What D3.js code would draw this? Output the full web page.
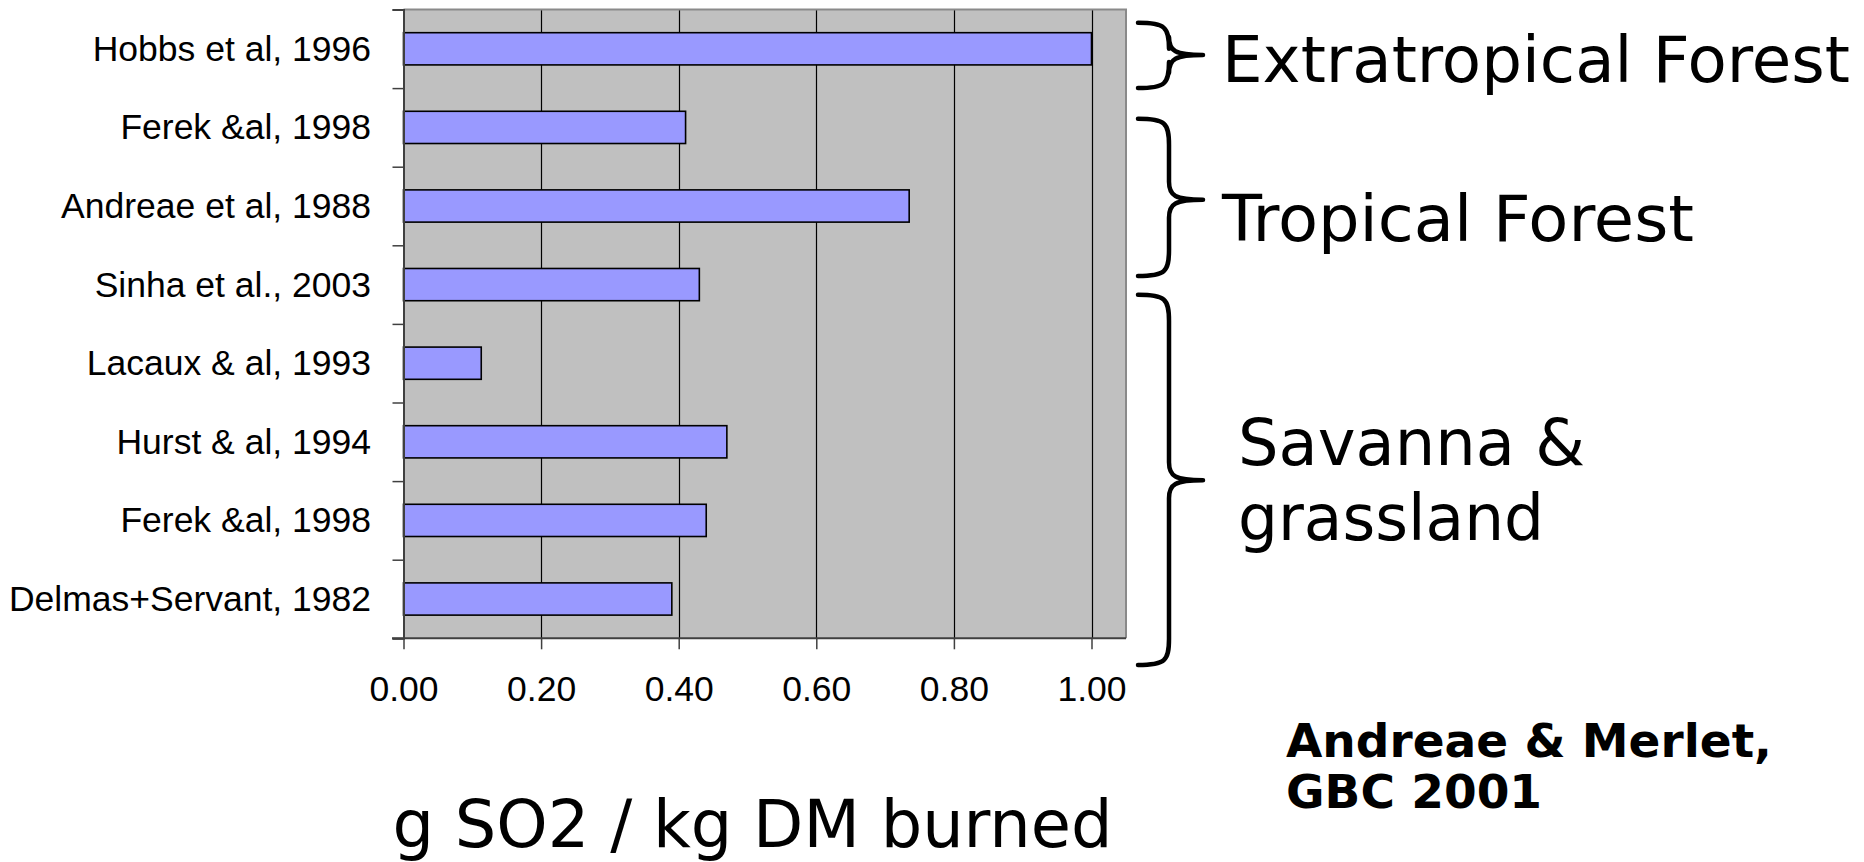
<!DOCTYPE html>
<html>
<head>
<meta charset="utf-8">
<script src="https://cdn.jsdelivr.net/npm/d3@7"></script>
<style>
  html, body { margin: 0; padding: 0; background: #ffffff; }
  svg { display: block; }
</style>
</head>
<body>
<svg id="chart" width="1864" height="862"></svg>
<script>
// SO2 emission factors from biomass burning, by study
const studies = [
  "Hobbs et al, 1996",
  "Ferek &al, 1998",
  "Andreae et al, 1988",
  "Sinha et al., 2003",
  "Lacaux & al, 1993",
  "Hurst & al, 1994",
  "Ferek &al, 1998",
  "Delmas+Servant, 1982"
];
const so2Values = [1.00, 0.41, 0.735, 0.43, 0.113, 0.47, 0.44, 0.39];
const xTickValues = [0, 0.2, 0.4, 0.6, 0.8, 1.0];

// Ecosystem groups, spans given in category units (0 = top of first row)
const groupNames = ["Extratropical Forest", "Tropical Forest", ["Savanna &", "grassland"]];
const groupStart = [0.17, 1.39, 3.63];
const groupEnd   = [1.00, 3.39, 8.34];
const groupTip   = [0.58, 2.42, 5.99];

const axisTitle = "g SO2 / kg DM burned";
const sourceLines = ["Andreae & Merlet,", "GBC 2001"];

const svg = d3.select("#chart");
const plot = { left: 403.5, right: 1126, top: 9.5, bottom: 638.3 };

const x = d3.scaleLinear().domain([0, 1.05]).range([plot.left, plot.left + 1.05 * 688]);
const y = d3.scaleBand().domain(d3.range(studies.length))
  .range([plot.top, plot.bottom]).paddingInner(0.59).paddingOuter(0.295);
const yUnit = d3.scaleLinear().domain([0, studies.length]).range([plot.top, plot.bottom]);

// plot background
svg.append("rect")
  .attr("x", plot.left).attr("y", plot.top)
  .attr("width", plot.right - plot.left).attr("height", plot.bottom - plot.top)
  .attr("fill", "#c0c0c0");

// vertical gridlines
svg.append("g").selectAll("line")
  .data(xTickValues.filter(d => d > 0))
  .join("line")
  .attr("x1", d => Math.round(x(d)) + 0.5).attr("x2", d => Math.round(x(d)) + 0.5)
  .attr("y1", plot.top).attr("y2", plot.bottom)
  .attr("stroke", "#000").attr("stroke-width", 1.2);

// top and right frame
svg.append("path")
  .attr("d", `M${plot.left},${plot.top} H${plot.right} V${plot.bottom}`)
  .attr("fill", "none").attr("stroke", "#8a8a8a").attr("stroke-width", 2);

// bars
svg.append("g").selectAll("rect")
  .data(so2Values)
  .join("rect")
  .attr("x", x(0))
  .attr("y", (d, i) => y(i))
  .attr("width", d => x(d) - x(0))
  .attr("height", y.bandwidth())
  .attr("fill", "#9999ff")
  .attr("stroke", "#000")
  .attr("stroke-width", 1.6);

// category axis
const gy = svg.append("g").attr("transform", `translate(${plot.left},0)`)
  .call(d3.axisLeft(yUnit).tickValues(d3.range(studies.length + 1)).tickSize(11).tickFormat(""));
gy.select(".domain").attr("stroke", "#404040").attr("stroke-width", 2);
gy.selectAll(".tick line").attr("stroke", "#404040").attr("stroke-width", 1.5);

svg.append("g").selectAll("text")
  .data(studies)
  .join("text")
  .attr("x", 371)
  .attr("y", (d, i) => y(i) + y.bandwidth() / 2)
  .attr("dy", "0.34em")
  .attr("text-anchor", "end")
  .attr("font-family", "'Liberation Sans', Arial, sans-serif")
  .attr("font-size", 35.5)
  .attr("fill", "#000")
  .text(d => d);

// value axis
const gx = svg.append("g").attr("transform", `translate(0,${plot.bottom})`)
  .call(d3.axisBottom(x).tickValues(xTickValues).tickSize(11).tickPadding(26).tickFormat(d3.format(".2f")));
gx.select(".domain").remove();
gx.append("line").attr("x1", 392).attr("x2", plot.right).attr("y1", 0).attr("y2", 0)
  .attr("stroke", "#404040").attr("stroke-width", 2);
gx.selectAll(".tick line").attr("stroke", "#404040").attr("stroke-width", 1.5);
gx.selectAll(".tick text")
  .attr("font-family", "'Liberation Sans', Arial, sans-serif")
  .attr("font-size", 35.5)
  .attr("fill", "#000");

// axis title
svg.append("text")
  .attr("x", 752.5).attr("y", 847)
  .attr("text-anchor", "middle")
  .attr("font-family", "'DejaVu Sans', Verdana, sans-serif")
  .attr("font-size", 65)
  .attr("textLength", 720)
  .attr("lengthAdjust", "spacingAndGlyphs")
  .attr("fill", "#000")
  .text(axisTitle);

// group braces
function bracePath(xl, xs, xt, y0, y1, ym) {
  const r = 26, rt = 18;
  return `M${xl},${y0} C${xs - 4},${y0} ${xs},${y0 + 4} ${xs},${y0 + r}` +
    ` L${xs},${ym - rt} C${xs},${ym - 4} ${xs + 6},${ym} ${xt},${ym}` +
    ` C${xs + 6},${ym} ${xs},${ym + 4} ${xs},${ym + rt}` +
    ` L${xs},${y1 - r} C${xs},${y1 - 4} ${xs - 4},${y1} ${xl},${y1}`;
}
svg.append("g").selectAll("path")
  .data(groupNames)
  .join("path")
  .attr("d", (d, i) => bracePath(1138, 1169, 1203, yUnit(groupStart[i]), yUnit(groupEnd[i]), yUnit(groupTip[i])))
  .attr("fill", "none")
  .attr("stroke", "#000")
  .attr("stroke-width", 4.5)
  .attr("stroke-linecap", "round")
  .attr("stroke-linejoin", "round");

// group labels, each line fitted to its set width
const groupLabelX = [1222, 1222, 1238];
const groupLabelY = [81.7, 241, 465];
const groupLabelWidths = [[628], [472], [347, 306]];
groupNames.forEach((name, i) => {
  const lines = Array.isArray(name) ? name : [name];
  lines.forEach((ln, j) => {
    svg.append("text")
      .attr("x", groupLabelX[i]).attr("y", groupLabelY[i] + j * 75)
      .attr("font-family", "'DejaVu Sans', Verdana, sans-serif")
      .attr("font-size", 64)
      .attr("textLength", groupLabelWidths[i][j])
      .attr("lengthAdjust", "spacingAndGlyphs")
      .attr("fill", "#000")
      .text(ln);
  });
});

// source citation
const src = svg.append("text")
  .attr("x", 1286).attr("y", 757)
  .attr("font-family", "'DejaVu Sans', Verdana, sans-serif")
  .attr("font-weight", "bold")
  .attr("font-size", 47)
  .attr("fill", "#000");
sourceLines.forEach((ln, j) => {
  src.append("tspan").attr("x", 1286).attr("dy", j === 0 ? 0 : 51).text(ln);
});
</script>
</body>
</html>
